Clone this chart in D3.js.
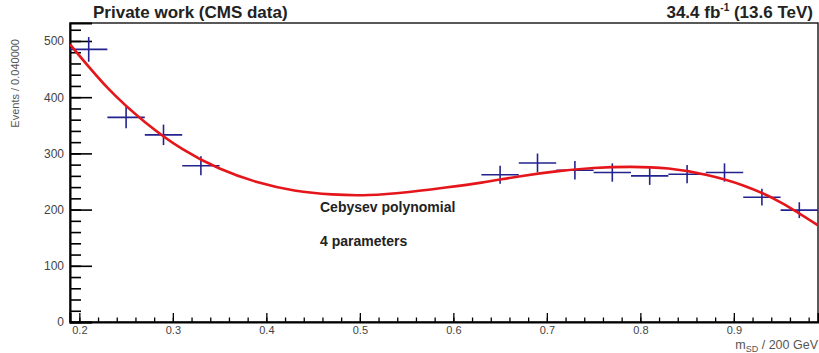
<!DOCTYPE html>
<html>
<head>
<meta charset="utf-8">
<script src="https://cdn.jsdelivr.net/npm/d3@7"></script>
<style>
  body { margin: 0; background: #fff; }
  text { font-family: "Liberation Sans", Arial, sans-serif; }
</style>
</head>
<body>
<div id="chart"></div>
<script>
// bin centres (m_SD / 200 GeV), bin width 0.04; signal region blinded
const binCenters = [0.21, 0.25, 0.29, 0.33, 0.65, 0.69, 0.73, 0.77, 0.81, 0.85, 0.89, 0.93, 0.97];
const events     = [485, 364, 333, 278, 262, 283, 270, 266, 260, 263, 266, 222, 199];
const errors     = [22, 19.1, 18.2, 16.7, 16.2, 16.8, 16.4, 16.3, 16.1, 16.2, 16.3, 14.9, 14.1];
const binHalf = 0.02;

// fitted Chebyshev curve
const fitX = [0.19, 0.23, 0.27, 0.31, 0.35, 0.39, 0.43, 0.47, 0.51, 0.55, 0.59,
              0.63, 0.67, 0.71, 0.75, 0.79, 0.83, 0.87, 0.91, 0.95, 0.99];
const fitY = [494, 417, 356, 308, 273, 249, 234, 227, 226, 231, 239,
              248, 259, 268, 274, 276, 273, 262, 243, 213, 172];

const xTicks = [0.2, 0.3, 0.4, 0.5, 0.6, 0.7, 0.8, 0.9];
const yTicks = [0, 100, 200, 300, 400, 500];

const W = 819, H = 353;
const frameL = 70, frameR = 818, frameT = 23, frameB = 322;

const svg = d3.select('#chart').append('svg')
  .attr('width', W)
  .attr('height', H);

const x = d3.scaleLinear().domain([0.19, 0.99]).range([frameL, frameR]);
const y = d3.scaleLinear().domain([0, 532]).range([frameB, frameT]);

// frame
svg.append('rect')
  .attr('x', frameL).attr('y', frameT)
  .attr('width', frameR - frameL).attr('height', frameB - frameT)
  .attr('fill', 'none').attr('stroke', '#000').attr('stroke-width', 1.3);

// x axis (ticks point up, into the frame)
const xMinor = d3.range(0.20, 0.99, 0.02).map(v => +v.toFixed(2));
svg.append('g')
  .attr('transform', `translate(0,${frameB})`)
  .call(d3.axisBottom(x).tickValues(xMinor).tickSize(-4.5).tickFormat(''))
  .call(g => g.select('.domain').remove())
  .call(g => g.selectAll('line').attr('stroke-width', 1.3));

const xAxis = svg.append('g')
  .attr('transform', `translate(0,${frameB})`)
  .call(d3.axisBottom(x).tickValues(xTicks).tickSize(-9).tickPadding(4).tickFormat(d3.format('.1f')));
xAxis.select('.domain').attr('stroke-width', 2);
xAxis.selectAll('line').attr('stroke-width', 1.3);
xAxis.selectAll('text').attr('font-size', 11).attr('fill', '#444');

// y axis (ticks point right, into the frame)
const yMinor = d3.range(0, 532, 20);
svg.append('g')
  .attr('transform', `translate(${frameL},0)`)
  .call(d3.axisLeft(y).tickValues(yMinor).tickSize(-11).tickFormat(''))
  .call(g => g.select('.domain').remove())
  .call(g => g.selectAll('line').attr('stroke-width', 1.6));

const yAxis = svg.append('g')
  .attr('transform', `translate(${frameL},0)`)
  .call(d3.axisLeft(y).tickValues(yTicks).tickSize(-22).tickPadding(6));
yAxis.select('.domain').attr('stroke-width', 2);
yAxis.selectAll('line').attr('stroke-width', 1.6);
yAxis.selectAll('text').attr('font-size', 12).attr('fill', '#444');

// axis titles
svg.append('text')
  .attr('transform', 'translate(19,39) rotate(-90)')
  .attr('text-anchor', 'end')
  .attr('font-size', 11)
  .attr('fill', '#555')
  .text('Events / 0.040000');

const xt = svg.append('text')
  .attr('x', frameR).attr('y', 349)
  .attr('text-anchor', 'end')
  .attr('font-size', 12.5)
  .attr('fill', '#555');
xt.append('tspan').text('m');
xt.append('tspan').attr('font-size', 9).attr('dy', 3).text('SD');
xt.append('tspan').attr('dy', -3).text(' / 200 GeV');

// header
svg.append('text')
  .attr('x', 93).attr('y', 18)
  .attr('font-size', 17).attr('font-weight', 'bold').attr('fill', '#222')
  .text('Private work (CMS data)');

const lumi = svg.append('text')
  .attr('x', 813).attr('y', 18)
  .attr('text-anchor', 'end')
  .attr('font-size', 17).attr('font-weight', 'bold').attr('fill', '#222');
lumi.append('tspan').text('34.4 fb');
lumi.append('tspan').attr('font-size', 10).attr('dy', -7).text('-1');
lumi.append('tspan').attr('dy', 7).text(' (13.6 TeV)');

// clip region
svg.append('clipPath').attr('id', 'frame')
  .append('rect')
  .attr('x', frameL).attr('y', frameT)
  .attr('width', frameR - frameL).attr('height', frameB - frameT);

// data points with error bars
const pts = binCenters.map((c, i) => ({ c, n: events[i], e: errors[i] }));
const dataG = svg.append('g').attr('clip-path', 'url(#frame)')
  .attr('stroke', '#23238f').attr('stroke-width', 1.6);

dataG.selectAll('line.h')
  .data(pts)
  .enter().append('line')
  .attr('class', 'h')
  .attr('x1', d => x(d.c - binHalf))
  .attr('x2', d => x(d.c + binHalf))
  .attr('y1', d => y(d.n))
  .attr('y2', d => y(d.n));

dataG.selectAll('line.v')
  .data(pts)
  .enter().append('line')
  .attr('class', 'v')
  .attr('x1', d => x(d.c))
  .attr('x2', d => x(d.c))
  .attr('y1', d => y(d.n - d.e))
  .attr('y2', d => y(d.n + d.e));

// fit curve
const line = d3.line()
  .x(d => x(d[0]))
  .y(d => y(d[1]))
  .curve(d3.curveNatural);

svg.append('path')
  .attr('clip-path', 'url(#frame)')
  .datum(fitX.map((v, i) => [v, fitY[i]]))
  .attr('d', line)
  .attr('fill', 'none')
  .attr('stroke', '#e5161b')
  .attr('stroke-width', 2.6);

// annotations
svg.append('text')
  .attr('x', 320).attr('y', 212)
  .attr('font-size', 14).attr('font-weight', 'bold').attr('fill', '#222')
  .text('Cebysev polynomial');

svg.append('text')
  .attr('x', 320).attr('y', 246)
  .attr('font-size', 14).attr('font-weight', 'bold').attr('fill', '#222')
  .text('4 parameters');
</script>
</body>
</html>
